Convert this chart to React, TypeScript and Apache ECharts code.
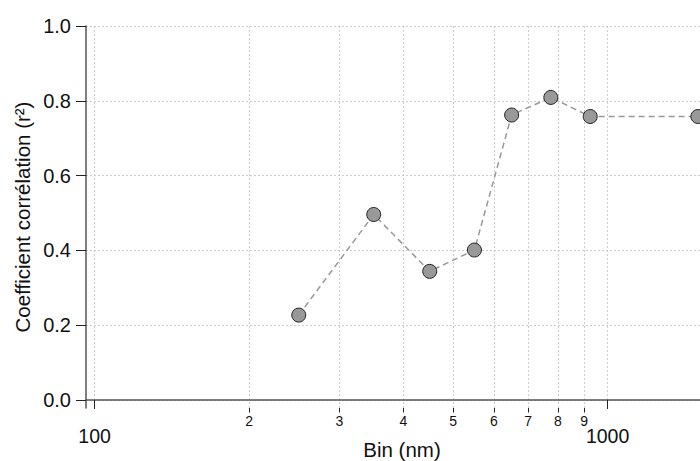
import React, { useEffect, useRef } from "react";
import * as echarts from "echarts";

const binSizes = [250, 350, 450, 550, 650, 775, 925, 1500];
const r2Values = [0.227, 0.496, 0.344, 0.401, 0.762, 0.809, 0.758, 0.758];
const majorTicks = [100, 1000];
const minorTicks = [200, 300, 400, 500, 600, 700, 800, 900];
const yTicks = [0, 0.2, 0.4, 0.6, 0.8, 1.0];

const FONT = "'Liberation Sans', Arial, sans-serif";
const TEXT = "#111";

export default function App() {
  const ref = useRef<HTMLDivElement>(null);
  useEffect(() => {
    if (!ref.current) return;
    const chart = echarts.init(ref.current, null, { renderer: "svg" });
    const xMin = 96.2;
    const xMax = 1514;
    chart.setOption({
      animation: false,
      backgroundColor: "#fff",
      grid: { left: 86, right: 0, top: 26, bottom: 53, outerBoundsMode: "none", containLabel: false },
      xAxis: [
        {
          type: "log",
          min: xMin,
          max: xMax,
          logBase: 10,
          name: "Bin (nm)",
          nameLocation: "middle",
          nameGap: 30,
          nameMoveOverlap: false,
          nameTextStyle: {
            fontSize: 20.5,
            lineHeight: 22,
            color: TEXT,
            fontFamily: FONT,
            padding: [0, 0, 0, 18],
          },
          axisLine: { show: true, lineStyle: { color: "#555", width: 1.5 } },
          axisTick: { show: true, customValues: majorTicks, length: 9, lineStyle: { color: "#222", width: 1 } },
          axisLabel: {
            customValues: majorTicks,
            fontSize: 19.5,
            color: TEXT,
            fontFamily: FONT,
            margin: 18,
            formatter: (v: number) => String(Math.round(v)),
          },
          splitLine: { show: true, lineStyle: { color: "#ccc", type: [2, 2], width: 1 } },
        },
        {
          type: "log",
          min: xMin,
          max: xMax,
          logBase: 10,
          position: "bottom",
          axisLine: { show: false },
          axisTick: { show: true, customValues: minorTicks, length: 4.5, lineStyle: { color: "#222", width: 1 } },
          axisLabel: {
            customValues: minorTicks,
            fontSize: 14,
            color: TEXT,
            fontFamily: FONT,
            margin: 6,
            formatter: (v: number) => String(Math.round(v / 100)),
          },
          splitLine: { show: true, lineStyle: { color: "#ccc", type: [2, 2], width: 1 } },
        },
      ],
      yAxis: {
        type: "value",
        min: -0.0214,
        max: 1.0,
        name: "Coefficient corrélation (r²)",
        nameLocation: "middle",
        nameGap: 53,
        nameRotate: 90,
        nameMoveOverlap: false,
        nameTextStyle: { fontSize: 20.5, color: TEXT, fontFamily: FONT },
        axisLine: { show: true, lineStyle: { color: "#555", width: 1.5 } },
        axisTick: { show: true, customValues: yTicks, length: 10, lineStyle: { color: "#222", width: 1 } },
        axisLabel: {
          customValues: yTicks,
          fontSize: 20,
          color: TEXT,
          fontFamily: FONT,
          margin: 15,
          formatter: (v: number) => v.toFixed(1),
        },
        splitLine: { show: true, lineStyle: { color: "#ccc", type: [2, 2], width: 1 } },
      },
      series: [
        {
          type: "line",
          xAxisIndex: 0,
          data: binSizes.map((b, i) => [b, r2Values[i]]),
          symbol: "circle",
          symbolSize: 14,
          clip: false,
          itemStyle: { color: "#999", borderColor: "#222", borderWidth: 1 },
          lineStyle: { color: "#999", width: 1.5, type: [6, 4] },
        },
      ],
    });
    return () => chart.dispose();
  }, []);
  return (
    <div
      ref={ref}
      style={{ position: "fixed", left: 0, top: 0, width: 700, height: 461, background: "#fff" }}
    />
  );
}
